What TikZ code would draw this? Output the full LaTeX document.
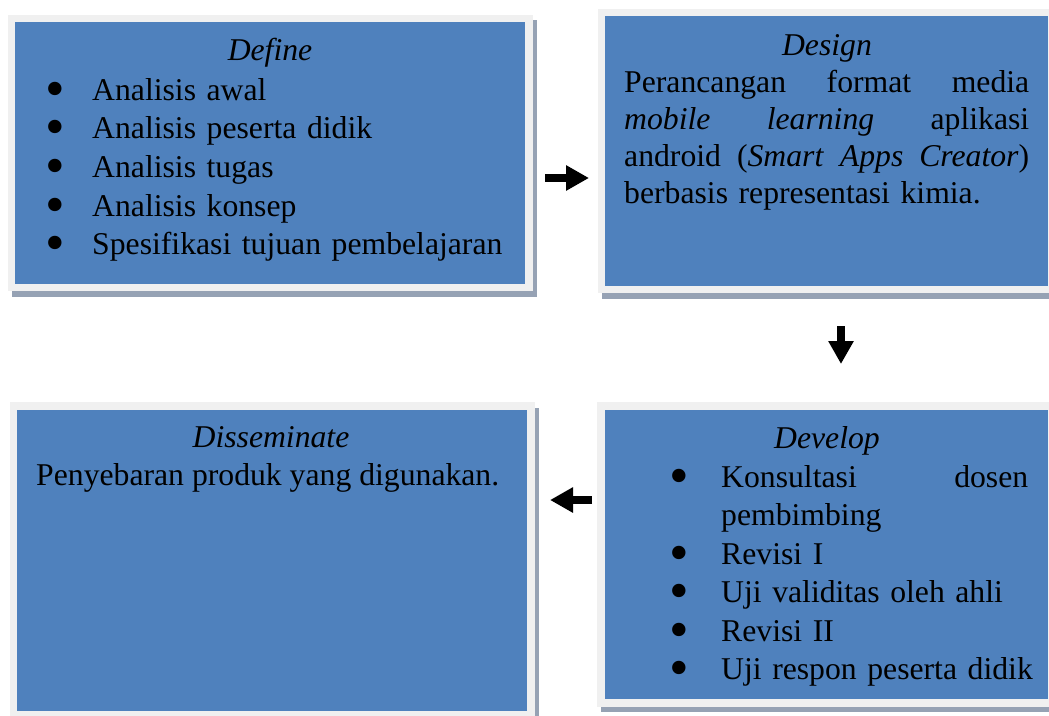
\documentclass[tikz,border=0pt]{standalone}
\usepackage{fontspec}
\setmainfont{Liberation Serif}
\usetikzlibrary{shadows,arrows.meta}

\definecolor{boxblue}{HTML}{4F81BD}
\definecolor{framegray}{HTML}{F0F0F0}
\definecolor{shadowgray}{HTML}{96A2B4}

\newcommand{\blt}[1]{\leavevmode\llap{\makebox[#1][c]{\smash{\raisebox{-7pt}{\fontsize{56}{56}\selectfont\textbullet}}}}}

\tikzset{
	box/.style={fill=framegray, inner sep=0pt,
		drop shadow={shadow xshift=4pt, shadow yshift=-5.5pt, fill=shadowgray, opacity=1},
		path picture={\fill[boxblue] ([shift={(7.5pt,-7.5pt)}]path picture bounding box.north west)
			rectangle ([shift={(-7.5pt,7.5pt)}]path picture bounding box.south east);}},
	title/.style={font=\fontsize{31.7}{38.7}\selectfont\itshape, inner sep=0pt, anchor=base},
	txt/.style={font=\fontsize{31.7}{38.7}\selectfont, inner sep=0pt, anchor=base west},
	blockarrow/.style={line width=8.5pt, -{Triangle[length=23pt,width=24pt]}}
}

\begin{document}
\begin{tikzpicture}[x=1pt, y=-1pt]
		\useasboundingbox (0,0) rectangle (1049,715);

		% kotak
		\node[box, minimum width=525pt, minimum height=276.5pt] (define) at (270,152.75) {};
		\node[box, minimum width=458pt, minimum height=284.5pt] (design) at (826.5,150.75) {};
		\node[box, minimum width=458.5pt, minimum height=304.5pt] (develop) at (826.25,554.25) {};
		\node[box, minimum width=525pt, minimum height=316.5pt] (dissem) at (272,560.25) {};

		% define
		\node[title] (defT) at (270,60) {Define};
		\node[txt, text width=430pt] (defL) at (92,100) {\blt{74pt}Analisis awal\\
			\blt{74pt}Analisis peserta didik\\
			\blt{74pt}Analisis tugas\\
			\blt{74pt}Analisis konsep\\
			\blt{74pt}Spesifikasi tujuan pembelajaran};

		% design
		\node[title] (desT) at (827,55) {Design};
		\node[txt, text width=405pt, font=\fontsize{31.7}{37}\selectfont] (desL) at (624,92) {%
			\makebox[405pt][s]{Perancangan\hfill format\hfill media}\\
			\makebox[405pt][s]{\textit{mobile}\hfill\textit{learning}\hfill aplikasi}\\
			\makebox[405pt][s]{android\hfill(\textit{Smart}\hfill\textit{Apps}\hfill\textit{Creator})}\\
			berbasis representasi kimia.};

		% develop
		\node[title] (devT) at (827,448) {Develop};
		\node[txt, text width=340pt, font=\fontsize{31.7}{38.5}\selectfont] (devL) at (721,487) {%
			\blt{84pt}\makebox[307pt][s]{Konsultasi\hfill dosen}\\
			pembimbing\\
			\blt{84pt}Revisi I\\
			\blt{84pt}Uji validitas oleh ahli\\
			\blt{84pt}Revisi II\\
			\blt{84pt}Uji respon peserta didik};

		% disseminate
		\node[title] (disT) at (271,447) {Disseminate};
		\node[txt] (disL) at (36,485) {Penyebaran produk yang digunakan.};

		% panah
		\coordinate (r1) at (545,178);
		\coordinate (r2) at (589,178);
		\coordinate (d1) at (841,326);
		\coordinate (d2) at (841,364);
		\coordinate (l1) at (592,500);
		\coordinate (l2) at (550,500);

		\draw[blockarrow] (r1) -- (r2);
		\draw[blockarrow] (d1) -- (d2);
		\draw[blockarrow] (l1) -- (l2);
	\end{tikzpicture}
\end{document}
